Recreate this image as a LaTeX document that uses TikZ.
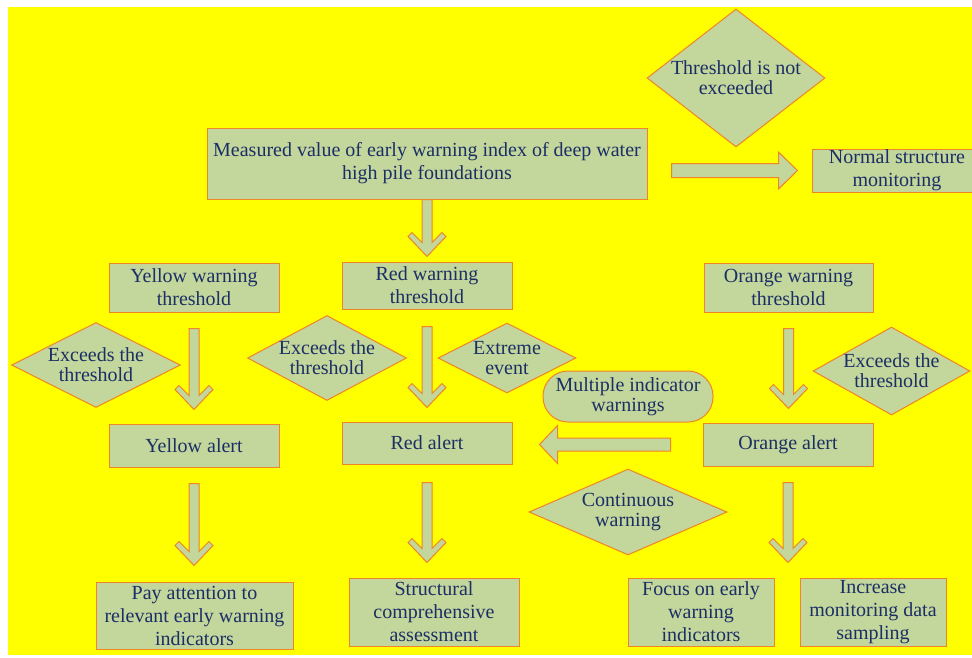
\documentclass[tikz,border=0pt]{standalone}
\usepackage{fontspec}
\setmainfont{Liberation Serif}
\usetikzlibrary{shapes.geometric,calc}
\definecolor{boxfill}{HTML}{C3D69B}
\definecolor{boxline}{HTML}{EE8526}
\definecolor{boxtext}{HTML}{1B2F66}
\definecolor{bgyellow}{HTML}{FFFF00}
\tikzset{
  box/.style={draw=boxline, fill=boxfill, text=boxtext, line width=1pt, inner sep=0pt,
    align=center, font=\fontsize{20}{23}\selectfont},
  dia/.style={diamond, draw=boxline, fill=boxfill, line width=1pt, inner sep=0pt},
  diatext/.style={text=boxtext, align=center, font=\fontsize{20}{20}\selectfont},
  arr/.style={draw=boxline, fill=boxfill, line width=1pt, line join=miter}
}
\newcommand\chev[4]{%
  \draw[arr] ($(#1.south |- #2.north)+(0,-#4)$) -- ++(-19,-20) -- ++(4,-4) -- ++(10,10)
    -- ($(#1.south)+(-5,#3)$) -- ++(10,0)
    -- ($(#1.south |- #2.north)+(5,-#4-14)$) -- ++(10,-10) -- ++(4,4) -- cycle;}
\begin{document}
\begin{tikzpicture}[x=1pt,y=-1pt]
\useasboundingbox (0,0) rectangle (972,657);
\fill[bgyellow] (8,7) rectangle (972,655);

\node[box, minimum width=440pt, minimum height=71pt] (m) at (427,163.5)
  {Measured value of early warning index of deep water\\high pile foundations};
\node[dia, minimum width=178pt, minimum height=138pt,
  label={[diatext]center:{Threshold is not\\exceeded}}] (tne) at (736,78) {};
\node[box, minimum width=170pt, minimum height=43pt] (ns) at (897,170.5) {Normal structure\\monitoring};

\node[box, minimum width=170pt, minimum height=49pt] (ywt) at (194,287.5) {Yellow warning\\threshold};
\node[box, minimum width=170pt, minimum height=47pt] (rwt) at (427,285.5) {Red warning\\threshold};
\node[box, minimum width=169pt, minimum height=49pt] (owt) at (788.5,287.5) {Orange warning\\threshold};

\node[dia, minimum width=169pt, minimum height=85pt,
  label={[diatext]center:{Exceeds the\\threshold}}] (ex1) at (96,365) {};
\node[dia, minimum width=159pt, minimum height=85pt,
  label={[diatext]center:{Exceeds the\\threshold}}] (ex2) at (327,358) {};
\node[dia, minimum width=138pt, minimum height=70pt,
  label={[diatext]center:{Extreme\\event}}] (ee) at (507,358) {};
\node[dia, minimum width=157pt, minimum height=88pt,
  label={[diatext]center:{Exceeds the\\threshold}}] (ex3) at (891.5,371) {};
\node[box, rounded corners=25pt, minimum width=170pt, minimum height=51pt,
  font=\fontsize{20}{20}\selectfont] (miw) at (628,396.5) {Multiple indicator\\warnings};

\node[box, minimum width=170pt, minimum height=43pt] (ya) at (194,445.5) {Yellow alert};
\node[box, minimum width=170pt, minimum height=42pt] (ra) at (427,443) {Red alert};
\node[box, minimum width=170pt, minimum height=43pt] (oa) at (788,444.5) {Orange alert};
\node[dia, minimum width=198pt, minimum height=86pt,
  label={[diatext]center:{Continuous\\warning}}] (cw) at (628,512) {};

\node[box, minimum width=197pt, minimum height=67pt] (pa) at (194.5,615.5)
  {Pay attention to\\relevant early warning\\indicators};
\node[box, minimum width=170pt, minimum height=68pt] (sca) at (434,612)
  {Structural\\comprehensive\\assessment};
\node[box, minimum width=146pt, minimum height=68pt] (foc) at (701,612)
  {Focus on early\\warning\\indicators};
\node[box, minimum width=146pt, minimum height=68pt] (inc) at (873,612)
  {Increase\\monitoring data\\sampling};

\chev{m}{rwt}{0}{5}
\chev{ywt}{ya}{16}{14}
\chev{rwt}{ra}{17}{14}
\chev{owt}{oa}{16}{14}
\chev{ya}{pa}{16}{16}
\chev{ra}{sca}{18}{15}
\chev{oa}{foc}{16}{15}

\draw[arr] ($(m.east |- ns.west)+(24,-7)$) -- ($(ns.west)+(-33,-7)$) -- ++(0,-11.5)
  -- ($(ns.west)+(-14,0)$) -- ($(ns.west)+(-33,18.5)$) -- ++(0,-11.5)
  -- ($(m.east |- ns.west)+(24,7)$) -- cycle;
\draw[arr] ($(oa.west)+(-32,-6.5)$) -- ($(ra.east |- oa.west)+(45,-6.5)$) -- ++(0,-12.5)
  -- ($(ra.east |- oa.west)+(27,0)$) -- ($(ra.east |- oa.west)+(45,19)$) -- ++(0,-12.5)
  -- ($(oa.west)+(-32,6.5)$) -- cycle;
\end{tikzpicture}
\end{document}
